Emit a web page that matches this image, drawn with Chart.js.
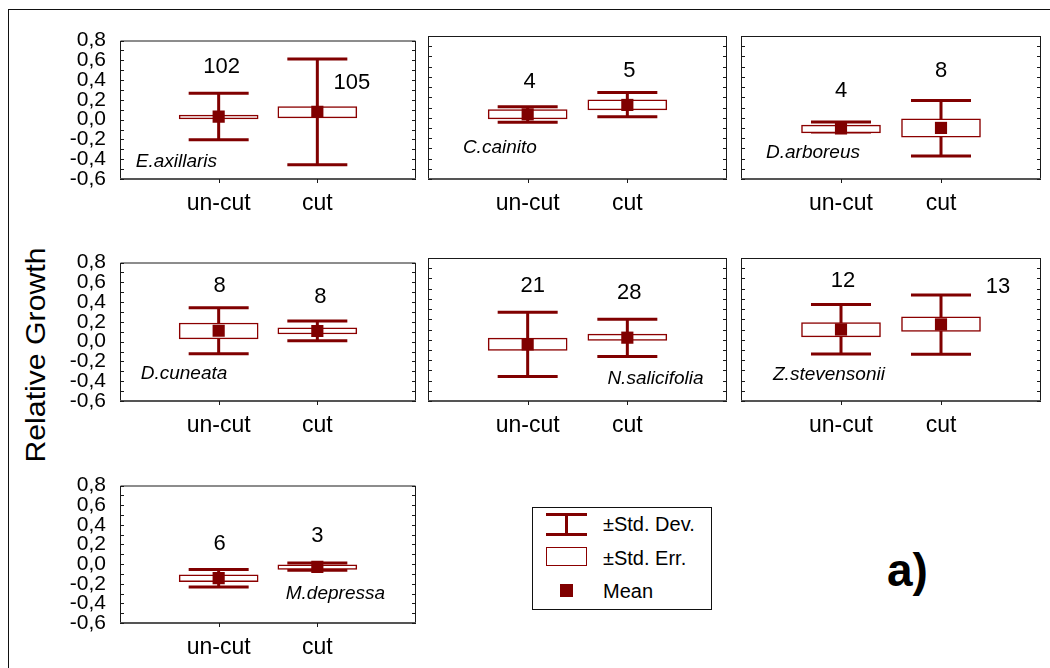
<!DOCTYPE html>
<html>
<head>
<meta charset="utf-8">
<title>Relative Growth</title>
<script src="https://cdn.jsdelivr.net/npm/chart.js@4.4.0/dist/chart.umd.min.js"></script>
<style>
    body { margin: 0; background: #fff; width: 1050px; height: 668px; overflow: hidden; position: relative;
           font-family: "Liberation Sans", Arial, sans-serif; }
    .frame { position: absolute; left: 8px; top: 9px; width: 1100px; height: 700px;
             border-left: 1px solid #111; border-top: 1px solid #111; }
    .panel { position: absolute; }
    .ytitle { position: absolute; left: 36px; top: 355px; font-size: 28px; white-space: nowrap;
              transform: translate(-50%, -50%) rotate(-90deg) scaleX(1.08); color: #000; }
    .legend { position: absolute; left: 532px; top: 507px; width: 178px; height: 101px; border: 1px solid #111; }
    .legend .txt { position: absolute; left: 70px; font-size: 20px; transform: translateY(-50%); white-space: nowrap; }
    .sd-bar { position: absolute; left: 13px; width: 41px; height: 3px; background: #800000; }
    .sd-stem { position: absolute; left: 32px; top: 6px; width: 3px; height: 20px; background: #800000; }
    .se-box { position: absolute; left: 13px; top: 39px; width: 39px; height: 17px; border: 1px solid #8b0000; }
    .mean-sq { position: absolute; left: 27px; top: 76px; width: 13px; height: 13px; background: #800000; }
    .tag { position: absolute; left: 887px; top: 570px; transform: translateY(-50%); font-size: 46px; font-weight: bold; }
</style>
</head>
<body>
<div class="frame"></div>
<div class="ytitle">Relative Growth</div>
<div class="legend">
    <div class="sd-bar" style="top:5px"></div>
    <div class="sd-stem"></div>
    <div class="sd-bar" style="top:25px"></div>
    <div class="txt" style="top:16px">±Std. Dev.</div>
    <div class="se-box"></div>
    <div class="txt" style="top:50px">±Std. Err.</div>
    <div class="mean-sq"></div>
    <div class="txt" style="top:83px">Mean</div>
</div>
<div class="tag">a)</div>

<script>
// data
const species = ['E.axillaris', 'C.cainito', 'D.arboreus', 'D.cuneata', 'N.salicifolia', 'Z.stevensonii', 'M.depressa'];
const categories = ['un-cut', 'cut'];
const counts = [[102, 105], [4, 5], [4, 8], [8, 8], [21, 28], [12, 13], [6, 3]];
const means  = [[0.03, 0.08], [0.033, 0.125], [-0.105, -0.10], [0.11, 0.108], [-0.046, 0.02], [0.10, 0.15], [-0.143, -0.028]];
const seLow  = [[0.008, 0.018], [-0.011, 0.077], [-0.148, -0.191], [0.028, 0.077], [-0.106, -0.008], [0.028, 0.08], [-0.178, -0.054]];
const seHigh = [[0.045, 0.132], [0.08, 0.175], [-0.073, -0.011], [0.188, 0.139], [0.015, 0.054], [0.168, 0.224], [-0.109, -0.008]];
const sdLow  = [[-0.204, -0.456], [-0.044, 0.009], [-0.14, -0.374], [-0.123, 0.008], [-0.361, -0.165], [-0.139, -0.142], [-0.234, -0.063]];
const sdHigh = [[0.267, 0.613], [0.107, 0.247], [-0.041, 0.169], [0.342, 0.208], [0.27, 0.201], [0.345, 0.437], [-0.054, 0.012]];
const yMin = -0.6, yMax = 0.8, yStep = 0.2;

// layout: plot boxes on the page, label placements in axis units
const boxes = [
    [120, 36, 416, 179], [428, 36, 727, 179], [741, 36, 1041, 179],
    [120, 258, 416, 401], [428, 258, 727, 401], [741, 258, 1041, 401],
    [120, 481, 416, 623]
];
const countPos = [
    [[1.03, 0.53], [2.35, 0.37]], [[1.02, 0.35], [2.02, 0.456]], [[1.0, 0.26], [2.0, 0.456]],
    [[1.01, 0.56], [2.03, 0.456]], [[1.05, 0.522], [2.02, 0.456]], [[1.02, 0.571], [2.57, 0.512]],
    [[1.01, 0.208], [2.0, 0.283]]
];
const speciesPos = [[0.16, -0.427], [0.35, -0.295], [0.25, -0.345], [0.21, -0.322], [1.8, -0.378], [0.32, -0.345], [1.68, -0.306]];

const RED = '#800000';
const FONT = '"Liberation Sans", Arial, sans-serif';

function fmt(v) {
    if (Math.abs(v) < 1e-9) v = 0;
    return v.toFixed(1).replace('.', ',');
}

const panelPlugin = {
    id: 'panelDecor',
    beforeDatasetsDraw(chart) {
        const p = chart.options.plugins.panelDecor.index;
        const {ctx} = chart;
        const xs = chart.scales.x, ys = chart.scales.y;
        ctx.save();
        // whiskers (±SD), drawn under the SE boxes
        ctx.strokeStyle = RED;
        ctx.lineWidth = 3;
        for (let i = 0; i < 2; i++) {
            const x = xs.getPixelForValue(i + 1);
            const top = ys.getPixelForValue(sdHigh[p][i]);
            const bot = ys.getPixelForValue(sdLow[p][i]);
            ctx.beginPath();
            ctx.moveTo(x, top); ctx.lineTo(x, bot);
            ctx.moveTo(x - 30, top); ctx.lineTo(x + 30, top);
            ctx.moveTo(x - 30, bot); ctx.lineTo(x + 30, bot);
            ctx.stroke();
        }
        ctx.restore();
    },
    afterDatasetsDraw(chart) {
        const p = chart.options.plugins.panelDecor.index;
        const {ctx, chartArea: a} = chart;
        const xs = chart.scales.x, ys = chart.scales.y;
        ctx.save();
        // frame
        ctx.strokeStyle = '#1a1a1a';
        ctx.lineWidth = 1;
        ctx.beginPath();
        ctx.moveTo(a.left + 0.5, a.bottom); ctx.lineTo(a.left + 0.5, a.top + 0.5);
        ctx.lineTo(a.right - 0.5, a.top + 0.5); ctx.lineTo(a.right - 0.5, a.bottom);
        ctx.stroke();
        ctx.strokeStyle = '#555';
        ctx.lineWidth = 2;
        ctx.beginPath();
        ctx.moveTo(a.left, a.bottom); ctx.lineTo(a.right, a.bottom);
        ctx.stroke();
        // inward ticks every 0.1
        ctx.strokeStyle = '#1a1a1a';
        ctx.lineWidth = 1;
        ctx.beginPath();
        for (let k = Math.round(yMin * 10); k <= Math.round(yMax * 10); k++) {
            const y = Math.round(ys.getPixelForValue(k / 10)) + 0.5;
            ctx.moveTo(a.left, y); ctx.lineTo(a.left + 4, y);
            ctx.moveTo(a.right, y); ctx.lineTo(a.right - 4, y);
        }
        for (let i = 0; i < 2; i++) {
            const x = Math.round(xs.getPixelForValue(i + 1)) + 0.5;
            ctx.moveTo(x, a.bottom); ctx.lineTo(x, a.bottom + 4);
        }
        ctx.stroke();
        // n labels
        ctx.fillStyle = '#000';
        ctx.textAlign = 'center';
        ctx.textBaseline = 'middle';
        ctx.font = '22px ' + FONT;
        for (let i = 0; i < 2; i++) {
            const [cx, cy] = countPos[p][i];
            ctx.fillText(String(counts[p][i]), xs.getPixelForValue(cx), ys.getPixelForValue(cy));
        }
        // species name
        ctx.textAlign = 'left';
        ctx.font = 'italic 19px ' + FONT;
        ctx.fillText(species[p], xs.getPixelForValue(speciesPos[p][0]), ys.getPixelForValue(speciesPos[p][1]));
        ctx.restore();
    }
};

function makePanel(p) {
    const [l, t, r, b] = boxes[p];
    const padL = 80, padT = 12, padR = 10, padB = 40;
    const canvas = document.createElement('canvas');
    const w = r - l + padL + padR, h = b - t + padT + padB;
    canvas.width = w; canvas.height = h;
    canvas.className = 'panel';
    canvas.style.left = (l - padL) + 'px';
    canvas.style.top = (t - padT) + 'px';
    canvas.style.width = w + 'px';
    canvas.style.height = h + 'px';
    document.body.appendChild(canvas);

    const showY = p % 3 === 0;
    new Chart(canvas, {
        type: 'bar',
        data: {
            datasets: [
                {
                    type: 'scatter',
                    label: 'Mean',
                    data: means[p].map((m, i) => ({x: i + 1, y: m})),
                    pointStyle: 'rect',
                    pointRadius: 8.6,
                    pointBorderWidth: 0,
                    backgroundColor: RED,
                    order: 0
                },
                {
                    type: 'bar',
                    label: '±Std. Err.',
                    data: categories.map((c, i) => ({x: i + 1, y: [seLow[p][i], seHigh[p][i]]})),
                    backgroundColor: '#fff',
                    borderColor: '#8b0000',
                    borderWidth: 1.5,
                    borderSkipped: false,
                    barThickness: 79,
                    order: 1
                }
            ]
        },
        options: {
            responsive: false,
            animation: false,
            events: [],
            layout: {padding: {left: 0, top: padT, right: padR, bottom: 0}},
            plugins: {
                legend: {display: false},
                tooltip: {enabled: false},
                panelDecor: {index: p}
            },
            scales: {
                x: {
                    type: 'linear',
                    offset: false,
                    min: 0, max: 3,
                    afterFit: s => { s.height = padB; },
                    grid: {display: false, offset: false},
                    border: {display: false},
                    ticks: {
                        stepSize: 1,
                        autoSkip: false,
                        maxRotation: 0,
                        padding: 3,
                        color: '#000',
                        font: {family: FONT, size: 23},
                        callback: v => categories[v - 1] || ''
                    }
                },
                y: {
                    min: yMin, max: yMax,
                    afterFit: s => { s.width = padL; },
                    grid: {display: false},
                    border: {display: false},
                    ticks: {
                        display: showY,
                        autoSkip: false,
                        stepSize: yStep,
                        padding: 6,
                        color: '#000',
                        font: {family: FONT, size: 21, lineHeight: 1},
                        callback: v => fmt(v)
                    }
                }
            }
        },
        plugins: [panelPlugin]
    });
}

for (let p = 0; p < species.length; p++) makePanel(p);
</script>
</body>
</html>
